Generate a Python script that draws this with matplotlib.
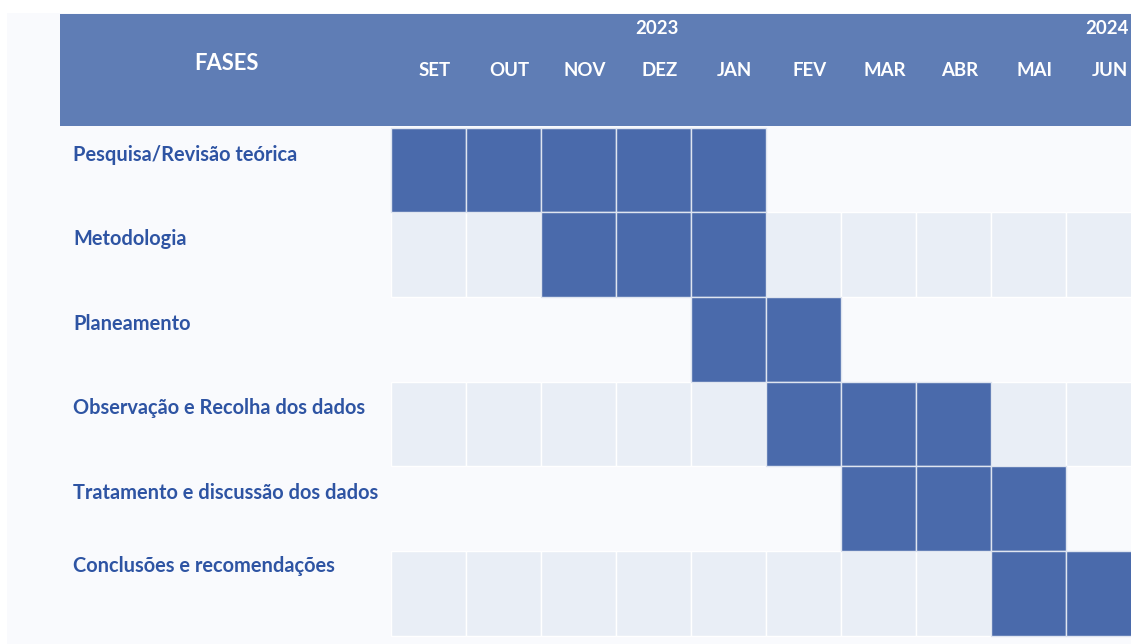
import matplotlib
matplotlib.use("Agg")
import matplotlib.pyplot as plt
from matplotlib.patches import Rectangle

# ---- data ----
phases = ["Pesquisa/Revisão teórica", "Metodologia", "Planeamento",
          "Observação e Recolha dos dados", "Tratamento e discussão dos dados",
          "Conclusões e recomendações"]
months = ["SET", "OUT", "NOV", "DEZ", "JAN", "FEV", "MAR", "ABR", "MAI", "JUN"]
years = ["2023", "2024"]
year_month_idx = [3, 9]
start_idx = [0, 2, 4, 5, 6, 8]
duration = [5, 3, 2, 3, 3, 2]
header_title = "FASES"

# ---- style ----
W, H = 1131, 644
COL_W = 75.0          # px per month
ROW_H = 84.7          # px per row
X0 = 391.0            # px where month grid starts
Y0 = 127.5            # px where first row starts
pale = "#f9fafd"
gray = "#e9eef6"
fill = "#4a6aab"
header_c = "#5f7db5"
text_c = "#2e54a3"
FONT = "Lato"
label_offsets = [0.32, 0.32, 0.32, 0.31, 0.31, 0.18]

fig = plt.figure(figsize=(W / 100, H / 100), dpi=100)
fig.patch.set_facecolor("white")
ax = fig.add_axes([0, 0, 1, 1])
ax.set_xlim(-X0 / COL_W, (W - X0) / COL_W)
ax.set_ylim((H - Y0) / ROW_H, -Y0 / ROW_H)
ax.axis("off")

def px_x(p):
    return (p - X0) / COL_W

def px_y(p):
    return (p - Y0) / ROW_H

# pale page background
ax.add_patch(Rectangle((px_x(7), px_y(13)), px_x(W + 5) - px_x(7), px_y(H + 5) - px_y(13),
                       facecolor=pale, edgecolor="none", zorder=0))
# header band
ax.add_patch(Rectangle((px_x(60), px_y(14)), px_x(W + 5) - px_x(60), px_y(126) - px_y(14),
                       facecolor=header_c, edgecolor="none", zorder=1))

n_m = len(months)
# alternating row background cells
for r in range(len(phases)):
    if r % 2 == 1:
        ax.barh([r + 0.5], [1] * n_m, left=list(range(n_m)), height=1.0,
                color=gray, edgecolor="white", linewidth=1.0, zorder=2)

# filled activity cells
for r, (s, d) in enumerate(zip(start_idx, duration)):
    ax.barh([r + 0.5] * d, [1] * d, left=list(range(s, s + d)), height=1.0,
            color=fill, edgecolor="#dfe5f0", linewidth=1.0, zorder=3)

# header texts
ax.text(px_x(226), px_y(64), header_title, color="white", fontsize=15.8,
        fontweight="bold", family=FONT, ha="center", va="center", zorder=5)
for i, m in enumerate(months):
    ax.text(i + 0.58, px_y(71), m, color="white", fontsize=13.4, fontweight="bold",
            family=FONT, ha="center", va="center", zorder=5)
for y, mi in zip(years, year_month_idx):
    ax.text(mi + 0.55, px_y(29), y, color="white", fontsize=13.4, fontweight="bold",
            family=FONT, ha="center", va="center", zorder=5)

# phase labels
for r, p in enumerate(phases):
    ax.text(px_x(73), r + label_offsets[r], p, color=text_c, fontsize=14.4,
            fontweight="bold", family=FONT, ha="left", va="center", zorder=5)

fig.savefig("out.png", dpi=100, facecolor=fig.get_facecolor())
